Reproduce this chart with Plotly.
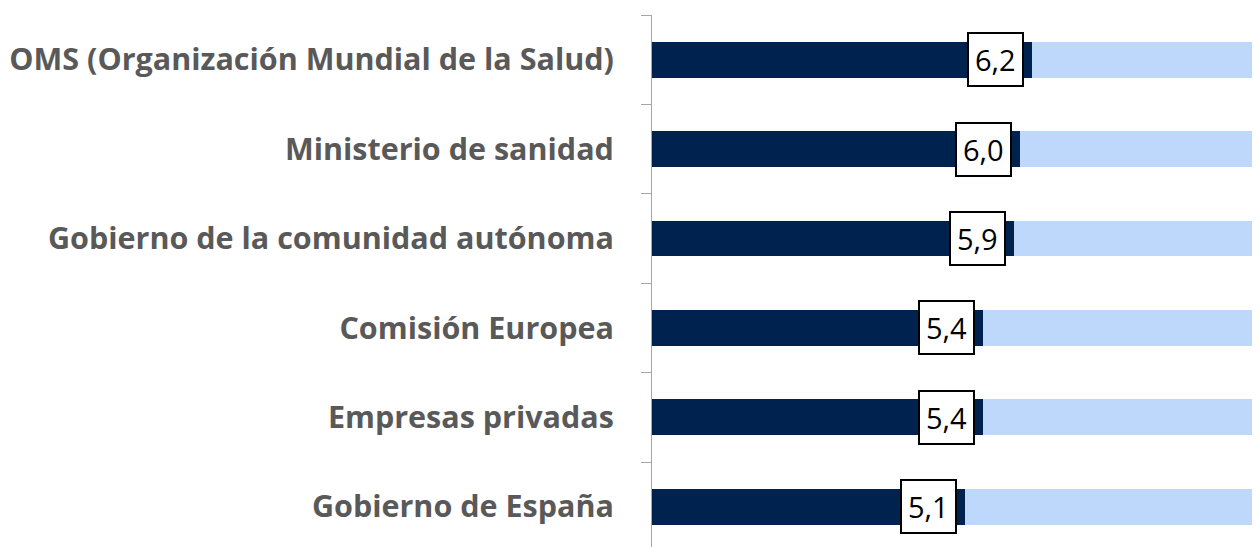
import plotly.graph_objects as go

categories = ["OMS (Organización Mundial de la Salud)", "Ministerio de sanidad",
              "Gobierno de la comunidad autónoma", "Comisión Europea",
              "Empresas privadas", "Gobierno de España"]
values = [6.2, 6.0, 5.9, 5.4, 5.4, 5.1]
max_score = 10
remainder = [max_score - v for v in values]

fig = go.Figure()
fig.add_trace(go.Bar(y=categories, x=values, orientation="h", marker=dict(color="#00224F", line_width=0),
                     width=0.4, hoverinfo="skip"))
fig.add_trace(go.Bar(y=categories, x=remainder, orientation="h", marker=dict(color="#BDD8FB", line_width=0),
                     width=0.4, hoverinfo="skip"))

for c, v in zip(categories, values):
    fig.add_annotation(x=v, y=c, text=f"{v:.1f}".replace(".", ","), showarrow=False,
                       xanchor="right", yanchor="middle", xshift=-8,
                       font=dict(family="Open Sans", size=29, color="black"),
                       bgcolor="white", bordercolor="black", borderwidth=2, borderpad=6)

fig.update_layout(
    barmode="stack", width=1252, height=539, showlegend=False,
    paper_bgcolor="white", plot_bgcolor="white",
    margin=dict(l=644, r=0, t=7, b=0),
    xaxis=dict(range=[0, 9.91], visible=False, fixedrange=True),
    yaxis=dict(categoryorder="array", categoryarray=categories, range=[5.45, -0.5],
               showline=True, linecolor="#A6A6A6", linewidth=1,
               ticks="outside", tickson="boundaries", ticklen=10, tickcolor="#A6A6A6",
               ticklabelstandoff=31, showgrid=False,
               tickfont=dict(family="Open Sans", size=30.5, color="#595959", weight="bold")),
)
fig.write_html("out.html")
